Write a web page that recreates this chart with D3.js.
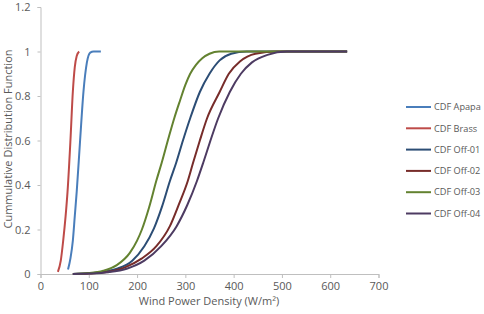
<!DOCTYPE html>
<html>
<head>
<meta charset="utf-8">
<script src="https://cdn.jsdelivr.net/npm/d3@7"></script>
<style>
  body { margin: 0; background: #fff; }
  text { font-family: "Open Sans", sans-serif; fill: #595959; }
</style>
</head>
<body>
<script>
// series names, colours and values
const seriesNames = ["CDF Apapa", "CDF Brass", "CDF Off-01", "CDF Off-02", "CDF Off-03", "CDF Off-04"];
const seriesColors = ["#4a7ebb", "#be4b48", "#2c4d75", "#772c2a", "#638230", "#4d3b62"];

const apapaX = [57, 62, 67, 71, 75, 82, 89, 96, 103, 110, 125];
const apapaY = [0.02, 0.07, 0.15, 0.26, 0.37, 0.6, 0.82, 0.95, 0.995, 1, 1];
const brassX = [36, 42, 47, 52, 56, 62, 67, 71, 75, 80];
const brassY = [0.01, 0.06, 0.15, 0.26, 0.37, 0.6, 0.82, 0.93, 0.98, 1];
const off01X = [67, 100, 130, 160, 190, 215, 235, 252, 268, 281, 295, 310, 330, 350, 371, 395, 427, 635];
const off01Y = [0, 0.003, 0.01, 0.025, 0.06, 0.125, 0.205, 0.305, 0.418, 0.5, 0.6, 0.7, 0.818, 0.9, 0.96, 0.99, 1, 1];
const off02X = [67, 100, 140, 175, 210, 240, 268, 287, 305, 316, 330, 345, 371, 390, 413, 445, 490, 635];
const off02Y = [0, 0.002, 0.01, 0.03, 0.07, 0.125, 0.215, 0.315, 0.418, 0.5, 0.6, 0.7, 0.818, 0.9, 0.955, 0.99, 1, 1];
const off03X = [67, 100, 130, 158, 185, 200, 210, 225, 240, 251, 265, 277, 289, 300, 310, 322, 335, 350, 370, 635];
const off03Y = [0, 0.004, 0.015, 0.04, 0.095, 0.15, 0.2, 0.3, 0.42, 0.5, 0.61, 0.7, 0.78, 0.85, 0.9, 0.94, 0.97, 0.99, 1, 1];
const off04X = [67, 100, 140, 180, 215, 250, 282, 304, 324, 337, 352, 368, 392, 415, 438, 470, 510, 635];
const off04Y = [0, 0.002, 0.008, 0.025, 0.06, 0.125, 0.215, 0.31, 0.418, 0.5, 0.6, 0.7, 0.818, 0.9, 0.951, 0.985, 1, 1];

const xTicks = [0, 100, 200, 300, 400, 500, 600, 700];
const yTicks = [0, 0.2, 0.4, 0.6, 0.8, 1, 1.2];

const allX = [apapaX, brassX, off01X, off02X, off03X, off04X];
const allY = [apapaY, brassY, off01Y, off02Y, off03Y, off04Y];
const series = seriesNames.map((name, i) => ({
  name: name,
  color: seriesColors[i],
  values: allX[i].map((x, j) => ({ x: x, y: allY[i][j] }))
}));

const width = 484;
const height = 314;
const svg = d3.select("body").append("svg").attr("width", width).attr("height", height);

const xScale = d3.scaleLinear().domain([0, 700]).range([40.5, 378.5]);
const yScale = d3.scaleLinear().domain([0, 1.2]).range([274, 7]);

// axes (Excel-like: light grey line, short outside ticks)
const axisx = d3.axisBottom(xScale).tickValues(xTicks).tickSize(4).tickPadding(4).tickFormat(d3.format("d"));
const axisy = d3.axisLeft(yScale).tickValues(yTicks).tickSize(3).tickPadding(7).tickFormat(d => d);

const gx = svg.append("g").attr("transform", "translate(0," + yScale(0) + ")").call(axisx);
const gy = svg.append("g").attr("transform", "translate(" + xScale(0) + ",0)").call(axisy);
[gx, gy].forEach(g => {
  g.select(".domain").attr("stroke", "#bfbfbf");
  g.selectAll(".tick line").attr("stroke", "#bfbfbf");
  g.selectAll(".tick text").style("font-size", "11px").attr("fill", "#595959");
});

const line = d3.line()
  .x(d => xScale(d.x))
  .y(d => yScale(d.y))
  .curve(d3.curveMonotoneX);

svg.append("g").selectAll("path")
  .data(series)
  .join("path")
  .attr("fill", "none")
  .attr("stroke", d => d.color)
  .attr("stroke-width", 2)
  .attr("d", d => line(d.values));

// axis titles
svg.append("text")
  .attr("x", 209).attr("y", 305)
  .attr("text-anchor", "middle")
  .style("font-size", "11px")
  .text("Wind Power Density (W/m²)");

svg.append("text")
  .attr("transform", "translate(12,139) rotate(-90)")
  .attr("text-anchor", "middle")
  .style("font-size", "11px")
  .text("Cummulative Distribution Function");

// legend
const legend = svg.append("g").selectAll("g")
  .data(series)
  .join("g")
  .attr("transform", (d, i) => "translate(406," + (107 + i * 21.3) + ")");
legend.append("line")
  .attr("x1", 0).attr("x2", 25)
  .attr("stroke", d => d.color)
  .attr("stroke-width", 2);
legend.append("text")
  .attr("x", 28).attr("dy", "0.35em")
  .style("font-size", "9.2px")
  .text(d => d.name);
</script>
</body>
</html>
